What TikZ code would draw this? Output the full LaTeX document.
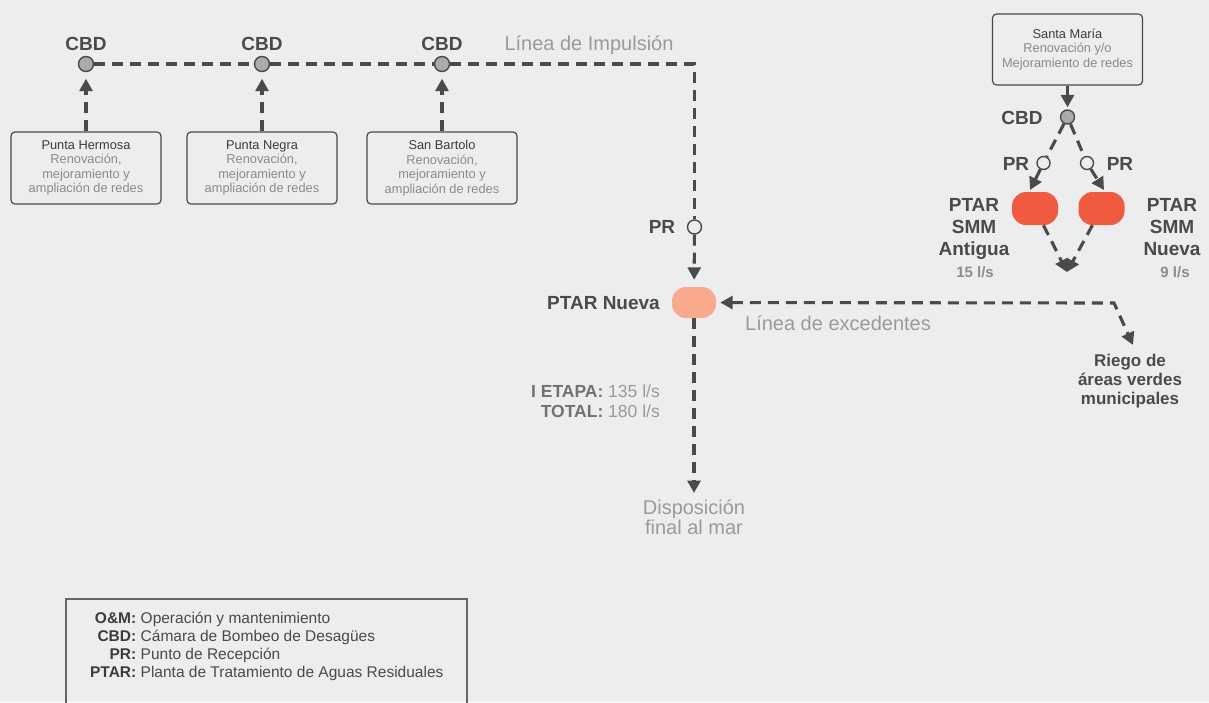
\documentclass[tikz,border=0pt]{standalone}
\usepackage{fontspec}
\setmainfont{Liberation Sans}
\usetikzlibrary{arrows.meta}
\definecolor{bg}{HTML}{EDEDEF}
\definecolor{ink}{HTML}{4A4A4C}
\definecolor{lgray}{HTML}{9A9A9C}
\definecolor{cbdfill}{HTML}{ABABAD}
\definecolor{salmon}{HTML}{F9A98C}
\definecolor{redo}{HTML}{F05A3E}
\definecolor{boxtxt}{HTML}{8A8A8C}
\definecolor{boxhead}{HTML}{3C3C3E}
\definecolor{etapa}{HTML}{727274}
\definecolor{smallg}{HTML}{8C8C8E}
\newcommand\fsz[2]{\fontsize{#1}{#2}\selectfont}
\begin{document}
\begin{tikzpicture}[x=1pt,y=-1pt,
 conn/.style={draw=ink,line width=3.1pt,dash pattern=on 11pt off 7pt},
 tip/.style={-{Triangle[length=12.5pt,width=13pt]}},
 cbdnode/.style={circle,fill=cbdfill,draw=ink,line width=1.4pt,minimum size=15pt,inner sep=0pt},
 prnode/.style={circle,fill=bg,draw=ink,line width=1.4pt,minimum size=14pt,inner sep=0pt},
 blab/.style={text=ink,font=\bfseries\fsz{19}{23},inner sep=0pt},
 glab/.style={text=lgray,font=\fsz{20}{21},inner sep=0pt},
 srcbox/.style={draw=ink,line width=1.2pt,rounded corners=4pt,minimum width=150pt,minimum height=72pt,align=center,font=\fsz{12.8}{14.5},text=boxtxt,inner sep=0pt},
 plant/.style={rounded corners=14pt,minimum width=44pt,minimum height=31pt,inner sep=0pt},
 smmlab/.style={text=ink,font=\bfseries\fsz{19}{22},inner sep=0pt},
 flow/.style={text=smallg,font=\bfseries\fsz{15}{17},inner sep=0pt},
 riego/.style={text=ink,font=\bfseries\fsz{17}{19},inner sep=0pt},
 lgdk/.style={text=boxhead,font=\bfseries\fsz{15.5}{18},inner sep=0pt,anchor=base east},
 lgdd/.style={text=ink,font=\fsz{15.5}{18},inner sep=0pt,anchor=base west}]
\fill[bg] (0,0) rectangle (1209,702);
\useasboundingbox (0,0) rectangle (1209,702);
\clip (0,0) rectangle (1209,702);

% ---- top pumping chain
\node[cbdnode] (cbd1) at (86,64) {};
\node[cbdnode] (cbd2) at (262,64) {};
\node[cbdnode] (cbd3) at (442,64) {};
\node[blab,anchor=base] (lc1) at (86,50) {CBD};
\node[blab,anchor=base] (lc2) at (262,50) {CBD};
\node[blab,anchor=base] (lc3) at (442,50) {CBD};
\node[glab,anchor=base] (limp) at (589,50) {Línea de Impulsión};

\node[srcbox] (ph) at (86,168) {\textcolor{boxhead}{Punta Hermosa}\\Renovación,\\mejoramiento y\\ampliación de redes};
\node[srcbox] (pn) at (262,168) {\textcolor{boxhead}{Punta Negra}\\Renovación,\\mejoramiento y\\ampliación de redes};
\node[srcbox] (sb) at (442,168) {\textcolor{boxhead}{San Bartolo}\\Renovación,\\mejoramiento y\\ampliación de redes};

\draw[conn,tip,shorten >=6.5pt] (ph) -- (cbd1);
\draw[conn,tip,shorten >=6.5pt] (pn) -- (cbd2);
\draw[conn,tip,shorten >=6.5pt] (sb) -- (cbd3);

\coordinate (corner) at (694.5,64);
\node[prnode] (prN) at (694.5,227) {};
\node[blab,anchor=base] (lprN) at (662,233) {PR};
\node[plant,fill=salmon] (ptarN) at (694,302.5) {};
\node[blab,anchor=base east] (lptarN) at (660,309) {PTAR Nueva};

\draw[conn] (cbd1) -- (cbd2);
\draw[conn] (cbd2) -- (cbd3);
\draw[conn] (cbd3) -- (corner) -- (prN);
\draw[conn,tip,shorten >=7pt] (prN) -- (ptarN);

% ---- outfall
\coordinate (dispTip) at (694,493);
\draw[conn,tip] (ptarN) -- (dispTip);
\node[glab,anchor=base] (disp1) at (694,514) {Disposición};
\node[glab,anchor=base] (disp2) at (694,534) {final al mar};
\node[inner sep=0pt,anchor=base east,font=\fsz{17.5}{20}] (et1) at (660,397) {\textcolor{etapa}{\bfseries I ETAPA:} \textcolor{lgray}{135 l/s}};
\node[inner sep=0pt,anchor=base east,font=\fsz{17.5}{20}] (et2) at (660,417) {\textcolor{etapa}{\bfseries TOTAL:} \textcolor{lgray}{180 l/s}};

% ---- surplus line
\coordinate (bend) at (1114,303);
\coordinate (riegoTip) at (1133,345);
\draw[conn,{Triangle[length=12.5pt,width=13pt]}-{Triangle[length=12.5pt,width=13pt]},shorten <=4pt] (ptarN) -- (bend) -- (riegoTip);
\node[glab,anchor=base] (lexc) at (838,330) {Línea de excedentes};
\node[riego,anchor=base] (rg1) at (1130,366) {Riego de};
\node[riego,anchor=base] (rg2) at (1130,385) {áreas verdes};
\node[riego,anchor=base] (rg3) at (1130,404) {municipales};

% ---- Santa Maria
\node[srcbox,minimum height=71pt] (sm) at (1067.5,49.5) {\textcolor{boxhead}{Santa María}\\Renovación y/o\\Mejoramiento de redes};
\node[cbdnode,minimum size=14pt] (cbdS) at (1067.5,117) {};
\node[blab,anchor=base] (lcS) at (1022,124) {CBD};
\draw[conn,tip,shorten >=2pt] (sm) -- (cbdS);

\node[prnode,minimum size=13pt] (prL) at (1043.5,163) {};
\node[prnode,minimum size=13pt] (prR) at (1087,163) {};
\node[blab,anchor=base] (lprL) at (1016,170) {PR};
\node[blab,anchor=base] (lprR) at (1120,170) {PR};
\coordinate (tipL) at (1030,190);
\coordinate (tipR) at (1104,190);
\draw[conn] (cbdS) -- (prL);
\draw[conn,tip] (prL) -- (tipL);
\draw[conn] (cbdS) -- (prR);
\draw[conn,tip] (prR) -- (tipR);

\node[plant,fill=redo,minimum width=46pt,minimum height=33pt] (smmL) at (1035,208.5) {};
\node[plant,fill=redo,minimum width=46pt,minimum height=33pt] (smmR) at (1101.5,208.5) {};
\coordinate (meet) at (1067,272);
\draw[conn,tip] (smmL) -- (meet);
\draw[conn,tip] (smmR) -- (meet);

\node[smmlab,anchor=base] (al1) at (974,211) {PTAR};
\node[smmlab,anchor=base] (al2) at (974,233) {SMM};
\node[smmlab,anchor=base] (al3) at (974,255) {Antigua};
\node[flow,anchor=base] (al4) at (975,277) {15 l/s};
\node[smmlab,anchor=base] (nl1) at (1172,211) {PTAR};
\node[smmlab,anchor=base] (nl2) at (1172,233) {SMM};
\node[smmlab,anchor=base] (nl3) at (1172,255) {Nueva};
\node[flow,anchor=base] (nl4) at (1175,277) {9 l/s};

% ---- legend
\draw[draw=ink!85,line width=1.2pt] (66,712) -- (66,599) -- (467,599) -- (467,712);
\node[lgdk] (k1) at (136.5,623) {O\&M:};
\node[lgdd] (d1) at (140.5,623) {Operación y mantenimiento};
\node[lgdk] (k2) at (136.5,641) {CBD:};
\node[lgdd] (d2) at (140.5,641) {Cámara de Bombeo de Desagües};
\node[lgdk] (k3) at (136.5,659) {PR:};
\node[lgdd] (d3) at (140.5,659) {Punto de Recepción};
\node[lgdk] (k4) at (136.5,677) {PTAR:};
\node[lgdd] (d4) at (140.5,677) {Planta de Tratamiento de Aguas Residuales};
\end{tikzpicture}
\end{document}
